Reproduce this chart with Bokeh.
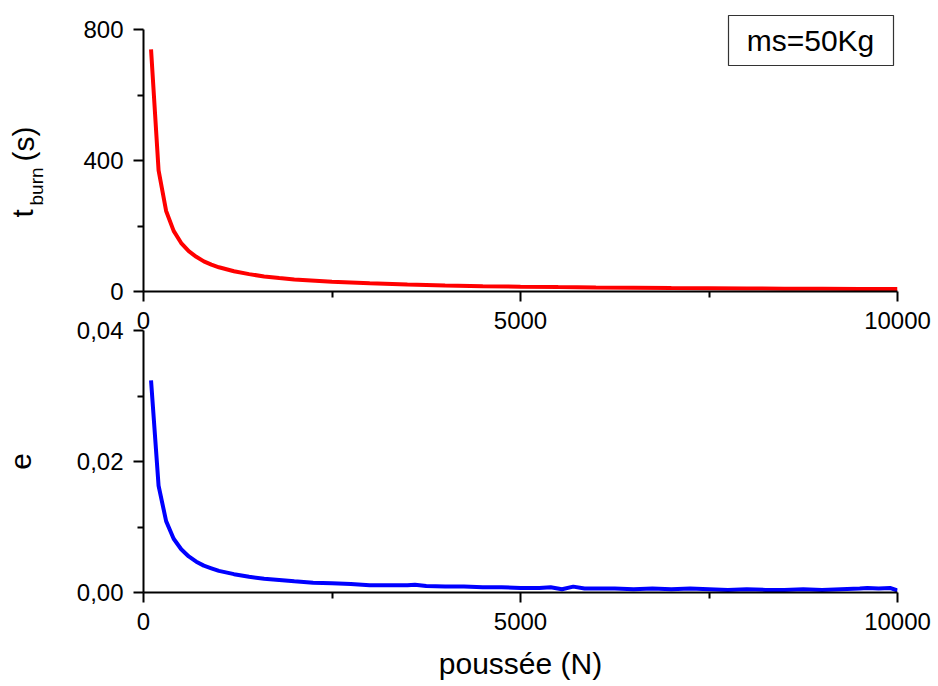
import math
from bokeh.plotting import figure
from bokeh.layouts import column, row
from bokeh.models import Range1d, FixedTicker, Label, BoxAnnotation
from bokeh.embed import file_html
from bokeh.resources import INLINE

# ---- data ----
thrust_t = [100, 200, 300, 400, 500, 600, 700, 800, 900, 1000, 1200, 1400, 1600,
            1800, 2000, 2500, 3000, 3500, 4000, 4500, 5000, 5500, 6000, 6500,
            7000, 7500, 8000, 8500, 9000, 9500, 10000]
t_burn = [739, 370, 246, 185, 148, 123, 106, 92, 82, 74, 62, 53, 46,
          41, 37, 30, 25, 21, 18.5, 16.4, 14.8, 13.4, 12.3, 11.4,
          10.6, 9.9, 9.2, 8.7, 8.2, 7.8, 7.4]

thrust_e = [100, 200, 300, 400, 500, 600, 700, 800, 900, 1000, 1200, 1400, 1600,
            1800, 2000, 2250, 2500, 2750, 3000, 3250, 3500, 3600, 3750, 4000,
            4250, 4500, 4750, 5000, 5250, 5400, 5550, 5700, 5850, 6000, 6250,
            6500, 6750, 7000, 7250, 7500, 7750, 8000, 8250, 8500, 8750, 9000,
            9250, 9500, 9600, 9750, 9900, 10000]
e_vals = [0.0324, 0.0163, 0.0109, 0.0082, 0.0066, 0.0055, 0.0047, 0.0041, 0.0037,
          0.0033, 0.0028, 0.0024, 0.0021, 0.0019, 0.0017, 0.0015, 0.0014, 0.0013,
          0.0011, 0.0011, 0.0011, 0.0012, 0.0010, 0.0009, 0.0009, 0.0008, 0.0008,
          0.0007, 0.0007, 0.0008, 0.0005, 0.0009, 0.0006, 0.0006, 0.0006, 0.0005,
          0.0006, 0.0005, 0.0006, 0.0005, 0.0004, 0.0005, 0.0004, 0.0004, 0.0005,
          0.0004, 0.0005, 0.0006, 0.0007, 0.0006, 0.0007, 0.0003]

x_major = [0, 5000, 10000]
x_minor = [2500, 7500]
t_major = [0, 400, 800]
t_minor = [200, 600]
e_major = [0.0, 0.02, 0.04]
e_minor = [0.01, 0.03]
e_tick_labels = {0.0: "0,00", 0.02: "0,02", 0.04: "0,04"}

FONT = "Liberation Sans"
TICK_SIZE = "24px"
TITLE_SIZE = "30px"

LEFT = 143          # frame left edge (px)
FRAME_W = 754
PANEL_H = 262
TOP_FRAME_BOTTOM = 291  # px from top of the window


def style_axis(ax, major, minor):
    ax.ticker = FixedTicker(ticks=major, minor_ticks=minor)
    ax.axis_line_width = 2
    ax.axis_line_color = "black"
    ax.major_tick_line_width = 2
    ax.minor_tick_line_width = 2
    ax.major_tick_in = 0
    ax.major_tick_out = 10
    ax.minor_tick_in = 0
    ax.minor_tick_out = 6
    ax.major_label_text_font = FONT
    ax.major_label_text_font_size = TICK_SIZE
    ax.major_label_text_color = "black"
    ax.major_label_standoff = 10
    ax.axis_label_text_font = FONT
    ax.axis_label_text_font_size = TITLE_SIZE
    ax.axis_label_text_font_style = "normal"
    ax.axis_label_text_color = "black"


# ---- left strip holding the rotated t_burn (s) title ----
STRIP_W = 80
strip = figure(width=STRIP_W, height=340, output_backend="svg", toolbar_location=None,
               x_range=Range1d(0, STRIP_W), y_range=Range1d(340, 0),
               x_axis_type=None, y_axis_type=None, min_border=0)
strip.grid.visible = False
strip.outline_line_color = None
for txt, px, py, size in [("t", 22, 217, TITLE_SIZE), ("burn", 36, 205, "19px"),
                          ("(s)", 23, 161, TITLE_SIZE)]:
    strip.add_layout(Label(x=px, y=py, text=txt, angle=math.pi / 2,
                           text_align="left", text_baseline="alphabetic",
                           text_font=FONT, text_font_size=size, text_color="black"))

# ---- top panel ----
top_end = 800 * TOP_FRAME_BOTTOM / PANEL_H
p1 = figure(frame_width=FRAME_W, frame_height=TOP_FRAME_BOTTOM, output_backend="svg",
            toolbar_location=None, x_range=Range1d(0, 10000),
            y_range=Range1d(0, top_end),
            min_border_left=LEFT, min_border_right=41, min_border_top=0,
            min_border_bottom=49)
p1.grid.visible = False
p1.outline_line_color = None
p1.border_fill_color = None
p1.background_fill_color = None
p1.line(thrust_t, t_burn, line_color="#ff0000", line_width=4)
style_axis(p1.xaxis[0], x_major, x_minor)
style_axis(p1.yaxis[0], t_major, t_minor)
p1.yaxis[0].bounds = (0, 800)

sx = 10000 / FRAME_W
sy = 800 / PANEL_H
p1.add_layout(BoxAnnotation(left=(728 - LEFT) * sx, right=(893 - LEFT) * sx,
                            top=(TOP_FRAME_BOTTOM - 15) * sy,
                            bottom=(TOP_FRAME_BOTTOM - 65) * sy,
                            fill_color="white", fill_alpha=1.0,
                            line_color="#333333", line_width=1.2, line_alpha=1.0))
p1.add_layout(Label(x=(810 - LEFT) * sx, y=(TOP_FRAME_BOTTOM - 40) * sy, text="ms=50Kg",
                    text_align="center", text_baseline="middle", text_font=FONT,
                    text_font_size=TITLE_SIZE, text_color="black"))

# ---- bottom panel ----
p2 = figure(frame_width=FRAME_W, frame_height=PANEL_H, output_backend="svg",
            toolbar_location=None, x_range=Range1d(0, 10000), y_range=Range1d(0, 0.04),
            min_border_left=LEFT, min_border_right=41, min_border_top=30,
            min_border_bottom=94, margin=(-40, 0, 0, 0))
p2.grid.visible = False
p2.outline_line_color = None
p2.border_fill_color = None
p2.background_fill_color = None
p2.line(thrust_e, e_vals, line_color="#0000ff", line_width=4)
style_axis(p2.xaxis[0], x_major, x_minor)
style_axis(p2.yaxis[0], e_major, e_minor)
p2.yaxis[0].major_label_overrides = e_tick_labels
p2.yaxis[0].axis_label = "e"
p2.yaxis[0].axis_label_standoff = 43
p2.xaxis[0].axis_label = "poussée (N)"
p2.xaxis[0].axis_label_standoff = 14

plots = column(p1, p2, spacing=0, margin=(0, 0, 0, -STRIP_W))
layout = row(strip, plots, spacing=0)
open("out.html", "w").write(file_html(layout, INLINE))
